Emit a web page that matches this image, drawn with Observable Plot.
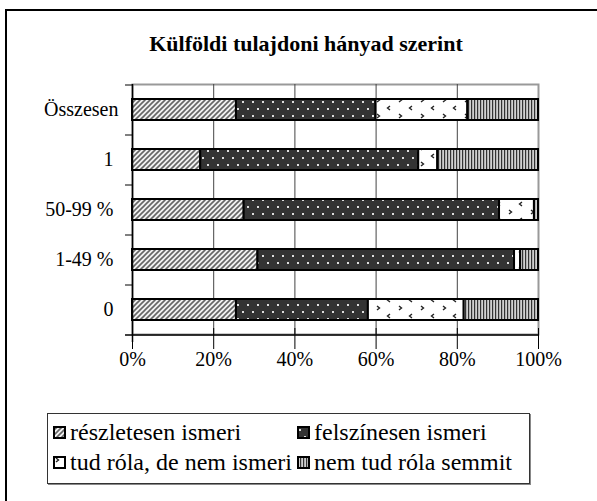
<!DOCTYPE html>
<html>
<head>
<meta charset="utf-8">
<script src="https://cdn.jsdelivr.net/npm/d3@7"></script>
<script src="https://cdn.jsdelivr.net/npm/@observablehq/plot@0.6"></script>
<style>
  html, body { margin: 0; padding: 0; background: #fff; }
  #wrap { position: relative; width: 597px; height: 501px; overflow: hidden; font-family: "Liberation Serif", "Times New Roman", serif; }
  #outer { position: absolute; left: 5px; top: 9px; width: 700px; height: 600px; border-left: 2px solid #000; border-top: 2px solid #000; box-sizing: border-box; }
  #title { position: absolute; left: 0; width: 612px; top: 31px; text-align: center; font-weight: bold; font-size: 22px; line-height: 26px; color: #000; }
  #legend { position: absolute; left: 47px; top: 413px; width: 483px; height: 71px; border: 1px solid #333; box-sizing: border-box; box-shadow: 1px 1px 0 #888; }
  .li { position: absolute; font-size: 24px; line-height: 28px; color: #000; white-space: nowrap; display: flex; align-items: center; }
  .li svg { margin-right: 4px; }
  #chart { position: absolute; left: 0; top: 0; }
</style>
</head>
<body>
<svg width="0" height="0" style="position:absolute">
  <defs>
    <pattern id="pHatch" patternUnits="userSpaceOnUse" width="5" height="5">
      <rect width="5" height="5" fill="#f2f2f2"/>
      <path d="M-1,6 L6,-1 M-1,1 L1,-1 M4,6 L6,4" stroke="#666" stroke-width="1.6"/>
    </pattern>
    <pattern id="pDots" patternUnits="userSpaceOnUse" width="10" height="14">
      <rect width="10" height="14" fill="#333"/>
      <rect x="2" y="3" width="2" height="2" fill="#ddd"/>
      <rect x="7" y="10" width="2" height="2" fill="#ddd"/>
    </pattern>
    <pattern id="pConf" patternUnits="userSpaceOnUse" width="22" height="16">
      <rect width="22" height="16" fill="#fff"/>
      <path d="M3,2 L5.5,4 L3,6" stroke="#222" stroke-width="1.4" fill="none"/>
      <path d="M16,10 L13.5,12 L16,14" stroke="#222" stroke-width="1.4" fill="none"/>
    </pattern>
    <pattern id="pStripe" patternUnits="userSpaceOnUse" width="3" height="3">
      <rect width="3" height="3" fill="#d0d0d0"/>
      <rect x="0" width="1.2" height="3" fill="#333"/>
    </pattern>
  </defs>
</svg>
<div id="wrap">
  <div id="outer"></div>
  <div id="chart"></div>
  <div id="title">Külföldi tulajdoni hányad szerint</div>
  <div id="legend"></div>
</div>
<script>
const categories = ["Összesen", "1", "50-99 %", "1-49 %", "0"];
const seriesNames = ["részletesen ismeri", "felszínesen ismeri", "tud róla, de nem ismeri", "nem tud róla semmit"];
const reszletesen = [25.6, 16.8, 27.5, 30.9, 25.6];
const felszinesen = [34.4, 53.7, 62.9, 63.2, 32.5];
const tudRola = [22.6, 4.7, 8.6, 1.5, 23.6];
const nemTud = [17.4, 24.8, 1.0, 4.4, 18.3];
const xTicks = [0, 20, 40, 60, 80, 100];
const gridTicks = [20, 40, 60, 80];

const patterns = ["url(#pHatch)", "url(#pDots)", "url(#pConf)", "url(#pStripe)"];
const seriesValues = [reszletesen, felszinesen, tudRola, nemTud];

const data = [];
categories.forEach((c, i) => {
  seriesNames.forEach((s, j) => {
    data.push({cat: c, series: s, value: seriesValues[j][i], fill: patterns[j]});
  });
});

const chart = Plot.plot({
  width: 597,
  height: 501,
  marginTop: 84,
  marginBottom: 167,
  marginLeft: 132,
  marginRight: 59,
  style: {background: "transparent", fontFamily: "'Liberation Serif', 'Times New Roman', serif"},
  x: {domain: [0, 100]},
  y: {domain: categories, paddingInner: 0.58, paddingOuter: 0.29, axis: null},
  color: {type: "identity"},
  marks: [
    Plot.frame({stroke: "#999", strokeWidth: 2}),
    Plot.ruleX(gridTicks, {stroke: "#444", strokeWidth: 1}),
    Plot.barX(data, Plot.stackX({
      x: "value", y: "cat", z: "series", order: seriesNames,
      fill: "fill", stroke: "#000", strokeWidth: 2
    })),
    Plot.ruleX([0], {stroke: "#000", strokeWidth: 1.5, insetBottom: -8}),
    Plot.ruleY(categories, {y: d => d, x1: -1.72, x2: 0, dy: -25, stroke: "#000", strokeWidth: 1}),
    Plot.ruleY([categories[categories.length - 1]], {y: d => d, x1: -1.72, x2: 100, dy: 25, stroke: "#000", strokeWidth: 1.5}),
    Plot.tickX(xTicks, {x: d => d, y: () => categories[categories.length - 1], dy: 29, stroke: "#000", strokeWidth: 1}),
    Plot.axisX(xTicks, {tickSize: 0, tickPadding: 17, tickFormat: d => d + "%", fontSize: 20, fill: "#000", label: null}),
    Plot.text(categories.filter(c => c !== "Összesen"), {y: d => d, x: 0, dx: -19, textAnchor: "end", fontSize: 20, fill: "#000"}),
    Plot.text(["Összesen"], {y: d => d, x: 0, dx: -14, textAnchor: "end", fontSize: 20, fill: "#000"})
  ]
});
document.getElementById("chart").appendChild(chart);

const legend = document.getElementById("legend");
const pos = [[5, 4], [249, 4], [5, 34], [249, 34]];
seriesNames.forEach((s, j) => {
  const el = document.createElement("div");
  el.className = "li";
  el.style.left = pos[j][0] + "px";
  el.style.top = pos[j][1] + "px";
  el.innerHTML = `<svg width="13" height="13"><rect x="1" y="1" width="11" height="11" fill="${patterns[j]}" stroke="#000" stroke-width="2"/></svg>`;
  const t = document.createElement("span");
  t.textContent = s;
  el.appendChild(t);
  legend.appendChild(el);
});
</script>
</body>
</html>
